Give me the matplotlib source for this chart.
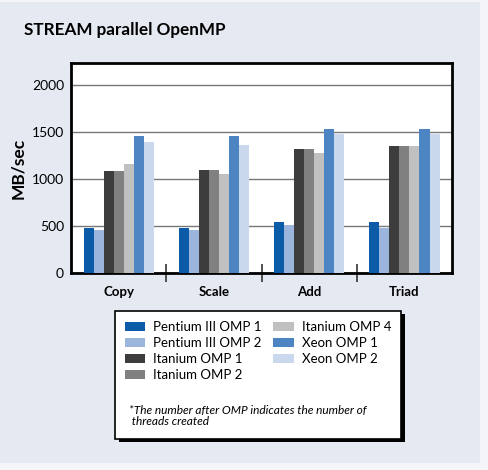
import matplotlib
matplotlib.use('Agg')
import matplotlib.pyplot as plt
import numpy as np
from matplotlib.patches import Rectangle, Patch

plt.rcParams['font.family'] = ['Lato', 'DejaVu Sans']

categories = ['Copy', 'Scale', 'Add', 'Triad']
series = ['Pentium III OMP 1', 'Pentium III OMP 2', 'Itanium OMP 1',
          'Itanium OMP 2', 'Itanium OMP 4', 'Xeon OMP 1', 'Xeon OMP 2']
pentium3_omp1 = [482, 482, 542, 542]
pentium3_omp2 = [457, 457, 507, 482]
itanium_omp1 = [1088, 1099, 1316, 1348]
itanium_omp2 = [1088, 1099, 1316, 1348]
itanium_omp4 = [1156, 1056, 1273, 1348]
xeon_omp1 = [1454, 1454, 1529, 1529]
xeon_omp2 = [1390, 1358, 1475, 1475]
yticks = [0, 500, 1000, 1500, 2000]

values = [pentium3_omp1, pentium3_omp2, itanium_omp1, itanium_omp2,
          itanium_omp4, xeon_omp1, xeon_omp2]
colors = ['#0b5ba8', '#9bb5dd', '#3d3d3d', '#808080', '#c0c0c0',
          '#4d85c2', '#c9d8ec']
bg = '#e5e9f1'

fig = plt.figure(figsize=(4.88, 4.70), dpi=100, facecolor='#f3f5f9')
# background panel
fig.patches.append(Rectangle((0, 1 - 463 / 470), 480 / 488, 461 / 470,
                             transform=fig.transFigure, facecolor=bg,
                             edgecolor='none', zorder=-1))

ax = fig.add_axes([0.1455, 0.419, 0.781, 0.447])
ax.set_zorder(1)

x = np.arange(len(categories))
w = 0.105
for i, (vals, c) in enumerate(zip(values, colors)):
    ax.bar(x + (i - 3) * w, vals, width=w, color=c, zorder=3, linewidth=0)

ax.set_xlim(-0.5, 3.5)
ax.set_ylim(0, 2234)
ax.set_yticks(yticks)
ax.yaxis.grid(True, color='#777777', linewidth=1, zorder=0)
ax.set_axisbelow(True)
ax.set_xticks(x)
ax.set_xticklabels(categories, fontsize=9.5, fontweight='bold')
ax.set_xticks([0.5, 1.5, 2.5], minor=True)
ax.tick_params(axis='x', which='major', length=0, pad=9)
ax.tick_params(axis='x', which='minor', length=13, width=1.2,
               direction='inout', color='#333333')
ax.tick_params(axis='y', length=0, labelsize=10, pad=5)
for s in ax.spines.values():
    s.set_linewidth(2)
ax.set_ylabel('MB/sec', fontsize=12.5, fontweight='bold', labelpad=4)

fig.text(0.049, 0.936, 'STREAM parallel OpenMP', fontsize=12.3,
         fontweight='bold', va='center', ha='left')

# legend box with shadow
lx0, lx1 = 0.236, 0.822
ly0, ly1 = 0.066, 0.338
fig.patches.append(Rectangle((lx0 + 0.007, ly0 - 0.007), lx1 - lx0, ly1 - ly0,
                             transform=fig.transFigure, facecolor='black',
                             edgecolor='none', zorder=1))
fig.patches.append(Rectangle((lx0, ly0), lx1 - lx0, ly1 - ly0,
                             transform=fig.transFigure, facecolor='white',
                             edgecolor='black', linewidth=1.2, zorder=2))
handles = [Patch(facecolor=c, edgecolor='none') for c in colors]
leg = fig.legend(handles, series, ncol=2, frameon=False, fontsize=9.5,
                 loc='upper left', bbox_to_anchor=(0.242, 0.331),
                 handlelength=1.55, handleheight=0.7, handletextpad=0.6,
                 labelspacing=0.3, columnspacing=0.9, borderpad=0.0)
leg.set_zorder(3)
fig.text(0.264, 0.114, '*The number after OMP indicates the number of\n threads created',
         fontsize=8.6, style='italic', va='center', ha='left', zorder=4,
         linespacing=1.0)

fig.savefig('out.png', dpi=100, facecolor=fig.get_facecolor())
